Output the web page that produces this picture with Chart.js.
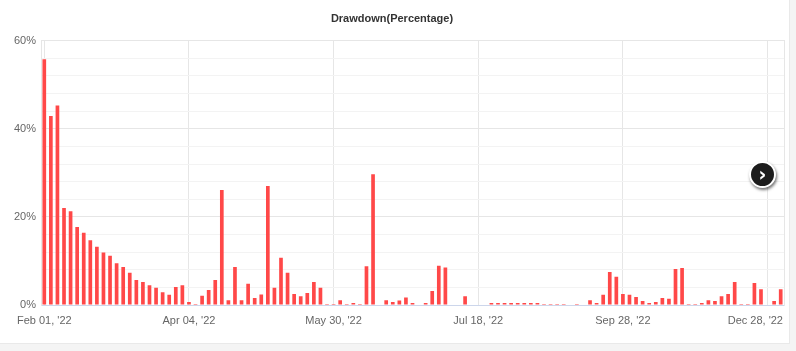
<!DOCTYPE html>
<html>
<head>
<meta charset="utf-8">
<script src="https://cdn.jsdelivr.net/npm/chart.js@4.4.1/dist/chart.umd.min.js"></script>
<style>
  html, body { margin: 0; padding: 0; background: #f4f4f4; width: 796px; height: 351px; overflow: hidden; }
  #card { position: absolute; left: 0; top: 0; width: 790px; height: 344px; background: #ffffff; border-right: 1px solid #e9e9e9; border-bottom: 1px solid #e9e9e9; box-sizing: border-box; }
  #c { position: absolute; left: 0; top: 0; }
  #nav { position: absolute; left: 749px; top: 161px; width: 27px; height: 27px; border-radius: 50%; background: #1c1c1c; border: 2px solid #ffffff; box-shadow: 1px 2px 3px rgba(0,0,0,0.55); box-sizing: border-box; color: #fff; font: bold 19px 'DejaVu Sans', sans-serif; line-height: 22px; text-align: center; }
</style>
</head>
<body>
<div id="card">
  <canvas id="c" width="789" height="343"></canvas>
  <div id="nav">›</div>
</div>
<script>
// Category labels (only the labelled ticks carry text)
const tickLabels = ["Feb 01, '22", "Apr 04, '22", "May 30, '22", "Jul 18, '22", "Sep 28, '22", "Dec 28, '22"];
const tickIndexes = [0, 22, 44, 66, 88, 110];

// Drawdown values in percent, one per bar (113 bars)
const drawdown = [
  55.8, 42.9, 45.3, 22.0, 21.3, 17.7, 16.4, 14.7, 13.2, 11.9,
  11.2, 9.5, 8.6, 7.3, 5.7, 5.2, 4.5, 3.9, 2.9, 2.3,
  4.1, 4.5, 0.7, 0.2, 2.1, 3.4, 5.7, 26.1, 1.1, 8.6,
  1.1, 4.8, 1.6, 2.4, 27.0, 3.9, 10.7, 7.3, 2.5, 2.0,
  2.7, 5.2, 3.9, 0.2, 0.2, 1.1, 0.2, 0.45, 0.2, 8.8,
  29.7, 0, 1.1, 0.7, 1.0, 1.7, 0.45, 0, 0.45, 3.2,
  8.9, 8.5, 0, 0, 2.0, 0, 0, 0, 0.45, 0.45,
  0.45, 0.45, 0.45, 0.45, 0.45, 0.45, 0.2, 0.2, 0.2, 0.2,
  0, 0.2, 0, 1.1, 0.45, 2.3, 7.5, 6.4, 2.5, 2.3,
  1.8, 0.9, 0.45, 0.7, 1.6, 1.4, 8.2, 8.4, 0.2, 0.2,
  0.45, 1.1, 0.9, 2.0, 2.5, 5.2, 0.2, 0.2, 5.0, 3.6,
  0, 0.9, 3.6
];

const yTicks = [0, 20, 40, 60];

const categories = drawdown.map((_, i) => {
  const k = tickIndexes.indexOf(i);
  return k >= 0 ? tickLabels[k] : '';
});

Chart.defaults.font.family = "'Liberation Sans', Arial, sans-serif";
Chart.defaults.font.size = 11;
Chart.defaults.color = '#666666';

new Chart(document.getElementById('c'), {
  type: 'bar',
  data: {
    labels: categories,
    datasets: [{
      data: drawdown,
      backgroundColor: '#ff4848',
      borderWidth: 0,
      categoryPercentage: 1.0,
      barPercentage: 0.56
    }]
  },
  options: {
    responsive: false,
    animation: false,
    layout: { padding: { left: 0, right: 5, top: 0, bottom: 0 } },
    plugins: {
      legend: { display: false },
      tooltip: { enabled: false },
      title: {
        display: true,
        text: 'Drawdown(Percentage)',
        color: '#333333',
        font: { size: 11, weight: 'bold' },
        padding: { top: 12, bottom: 15.5 }
      }
    },
    scales: {
      x: {
        offset: true,
        grid: {
          offset: false,
          drawTicks: false,
          color: '#e6e6e6'
        },
        border: { color: '#ccd6eb' },
        ticks: {
          autoSkip: false,
          maxRotation: 0,
          minRotation: 0,
          padding: 9,
          color: '#666666',
          callback: function (v, i) {
            const lab = categories[i];
            if (!lab) return null;
            return i === tickIndexes[tickIndexes.length - 1] ? lab + '\u00a0\u00a0\u00a0\u00a0\u00a0\u00a0\u00a0\u00a0' : lab;
          }
        },
        afterFit: function (s) { s.height = 38; s.paddingRight = 0; s.paddingLeft = 0; }
      },
      y: {
        min: 0,
        max: 60,
        grid: {
          drawTicks: false,
          color: function (ctx) {
            return yTicks.includes(ctx.tick.value) ? '#e6e6e6' : '#f3f3f3';
          }
        },
        border: { color: '#e6e6e6' },
        ticks: {
          stepSize: 4,
          padding: 5,
          color: '#666666',
          callback: function (v) { return yTicks.includes(v) ? v + '%' : ''; }
        },
        afterFit: function (s) { s.width = 41; }
      },
      yR: {
        position: 'right',
        min: 0,
        max: 60,
        grid: { display: false, drawTicks: false },
        border: { color: '#e6e6e6' },
        ticks: { display: false },
        afterFit: function (s) { s.width = 0; }
      }
    }
  }
});
</script>
</body>
</html>
